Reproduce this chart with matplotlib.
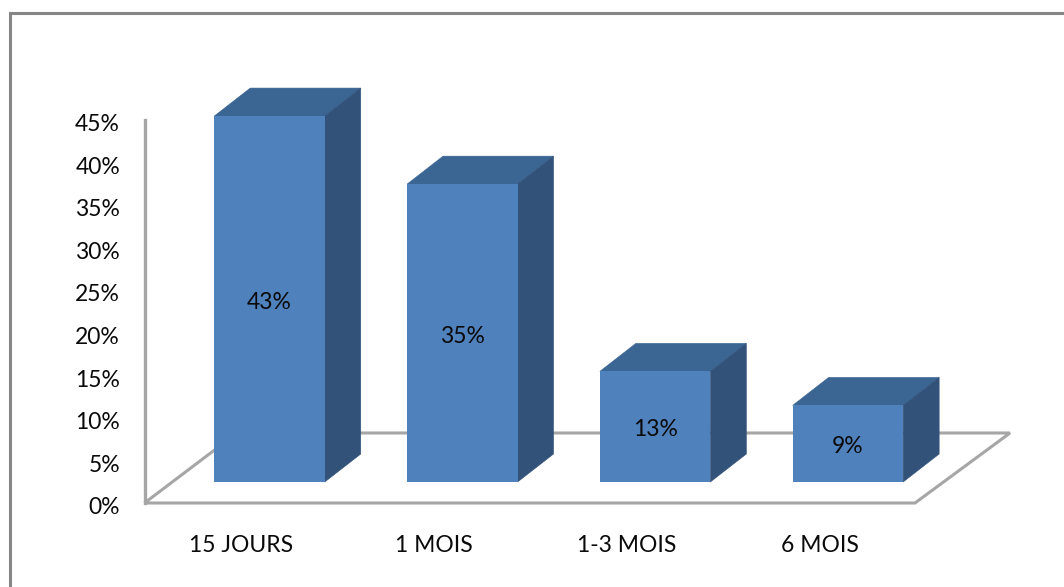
import matplotlib
matplotlib.use("Agg")
import matplotlib.pyplot as plt
from matplotlib.patches import Polygon

categories = ["15 JOURS", "1 MOIS", "1-3 MOIS", "6 MOIS"]
values = [43, 35, 13, 9]
y_ticks = [0, 5, 10, 15, 20, 25, 30, 35, 40, 45]

FRONT = "#4f81bd"
TOP = "#3b6593"
SIDE = "#325279"
GREY = "#a6a6a6"
BORDER = "#868686"
INK = "#0a0a0a"

W, H = 1064, 587
PX_PER_PCT = 8.51
PX_PER_CAT = 192.8
Y0 = 503        # pixel row of 0% on the wall
X0 = 269.5      # pixel column of first bar centre

plt.rcParams["font.family"] = ["Lato", "DejaVu Sans"]

fig = plt.figure(figsize=(W / 100, H / 100), dpi=100)
ax = fig.add_axes([0, 0, 1, 1])
ax.set_xlim(-X0 / PX_PER_CAT, (W - X0) / PX_PER_CAT)
ax.set_ylim(-(H - Y0) / PX_PER_PCT, Y0 / PX_PER_PCT)
ax.axis("off")

# sizes below are in data units of the axes
bar_w = 110.5 / PX_PER_CAT
depth_x = 36 / PX_PER_CAT
depth_y = 28 / PX_PER_PCT
floor = 21 / PX_PER_PCT


def xp(px):
    return (px - X0) / PX_PER_CAT


def yp(py):
    return (Y0 - py) / PX_PER_PCT


# wall axis and floor outline
floor_x = [xp(144.5), xp(915), xp(1010), xp(237)]
floor_y = [yp(503), yp(503), yp(433), yp(433)]
ax.add_patch(Polygon(list(zip(floor_x, floor_y)), closed=True, fill=False,
                     edgecolor=GREY, linewidth=2.2, zorder=1))
ax.plot([xp(144.5), xp(144.5)], [0, 45], color=GREY, lw=2.4, zorder=1)

for tick in y_ticks:
    ax.text(xp(120), tick - 0.55, f"{tick}%", ha="right", va="center",
            fontsize=16.5, color=INK)

# 3d bars: front face, top and right side
for i, (cat, v) in enumerate(zip(categories, values)):
    left = i - bar_w / 2
    right = i + bar_w / 2
    bottom = floor
    top = floor + v
    ax.add_patch(Polygon([(left, top), (right, top),
                          (right + depth_x, top + depth_y),
                          (left + depth_x, top + depth_y)],
                         closed=True, facecolor=TOP, edgecolor=TOP, lw=0.4, zorder=2))
    ax.add_patch(Polygon([(right, bottom), (right + depth_x, bottom + depth_y),
                          (right + depth_x, top + depth_y), (right, top)],
                         closed=True, facecolor=SIDE, edgecolor=SIDE, lw=0.4, zorder=2))
    ax.bar(i, v, width=bar_w, bottom=bottom, color=FRONT, zorder=3)
    ax.text(i, bottom + v / 2 - 0.38, f"{v}%", ha="center", va="center",
            fontsize=16.5, color=INK, zorder=4)
    ax.text(i - 0.145, yp(545.5), cat, ha="center", va="center",
            fontsize=16.5, color=INK)

# outer chart frame
ax.plot([xp(10), xp(10), xp(1064)], [yp(587), yp(13), yp(13)],
        color=BORDER, lw=2.2, zorder=0, solid_joinstyle="miter")

fig.savefig("out.png", dpi=100, facecolor="white")
